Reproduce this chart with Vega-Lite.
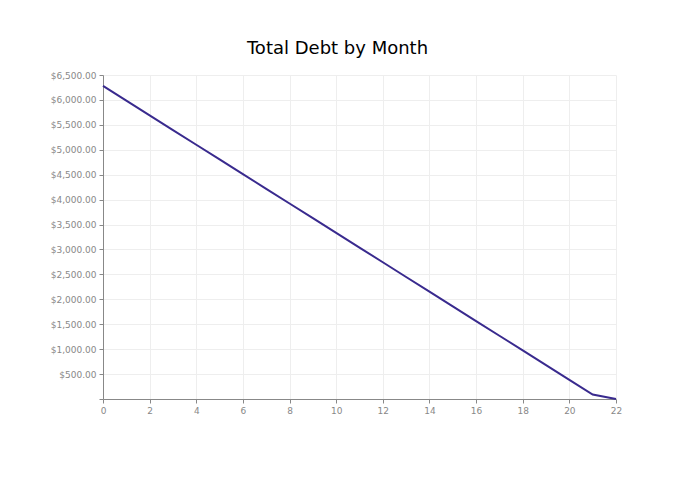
{
  "$schema": "https://vega.github.io/schema/vega-lite/v6.json",
  "width": 513,
  "height": 324,
  "autosize": {"type": "none"},
  "padding": {"left": 103, "top": 75, "right": 71, "bottom": 80},
  "background": "white",
  "title": {
    "text": "Total Debt by Month",
    "font": "DejaVu Sans",
    "fontSize": 18,
    "fontWeight": "normal",
    "color": "#000000",
    "anchor": "middle",
    "dx": -22,
    "offset": 13
  },
  "data": {
    "values": [
      {"Month": 0, "Debt": 6280},
      {"Month": 1, "Debt": 5985},
      {"Month": 2, "Debt": 5690},
      {"Month": 3, "Debt": 5396},
      {"Month": 4, "Debt": 5101},
      {"Month": 5, "Debt": 4806},
      {"Month": 6, "Debt": 4511},
      {"Month": 7, "Debt": 4217},
      {"Month": 8, "Debt": 3922},
      {"Month": 9, "Debt": 3627},
      {"Month": 10, "Debt": 3332},
      {"Month": 11, "Debt": 3038},
      {"Month": 12, "Debt": 2743},
      {"Month": 13, "Debt": 2448},
      {"Month": 14, "Debt": 2153},
      {"Month": 15, "Debt": 1859},
      {"Month": 16, "Debt": 1564},
      {"Month": 17, "Debt": 1269},
      {"Month": 18, "Debt": 974},
      {"Month": 19, "Debt": 680},
      {"Month": 20, "Debt": 385},
      {"Month": 21, "Debt": 90},
      {"Month": 22, "Debt": 0}
    ]
  },
  "config": {
    "view": {"stroke": null},
    "axis": {
      "labelFont": "DejaVu Sans",
      "labelFontSize": 9,
      "labelColor": "#888888",
      "labelFlush": false,
      "domainColor": "#888888",
      "tickColor": "#888888",
      "tickSize": 4,
      "gridColor": "#eeeeee",
      "title": null
    }
  },
  "mark": {"type": "line", "color": "#392a8e", "strokeWidth": 2},
  "encoding": {
    "x": {
      "field": "Month",
      "type": "quantitative",
      "scale": {"domain": [0, 22], "nice": false},
      "axis": {"values": [0, 2, 4, 6, 8, 10, 12, 14, 16, 18, 20, 22], "labelPadding": 3}
    },
    "y": {
      "field": "Debt",
      "type": "quantitative",
      "scale": {"domain": [0, 6500], "nice": false},
      "axis": {
        "values": [0, 500, 1000, 1500, 2000, 2500, 3000, 3500, 4000, 4500, 5000, 5500, 6000, 6500],
        "labelExpr": "datum.value == 0 ? '' : format(datum.value, '$,.2f')",
        "labelPadding": 3
      }
    }
  }
}
